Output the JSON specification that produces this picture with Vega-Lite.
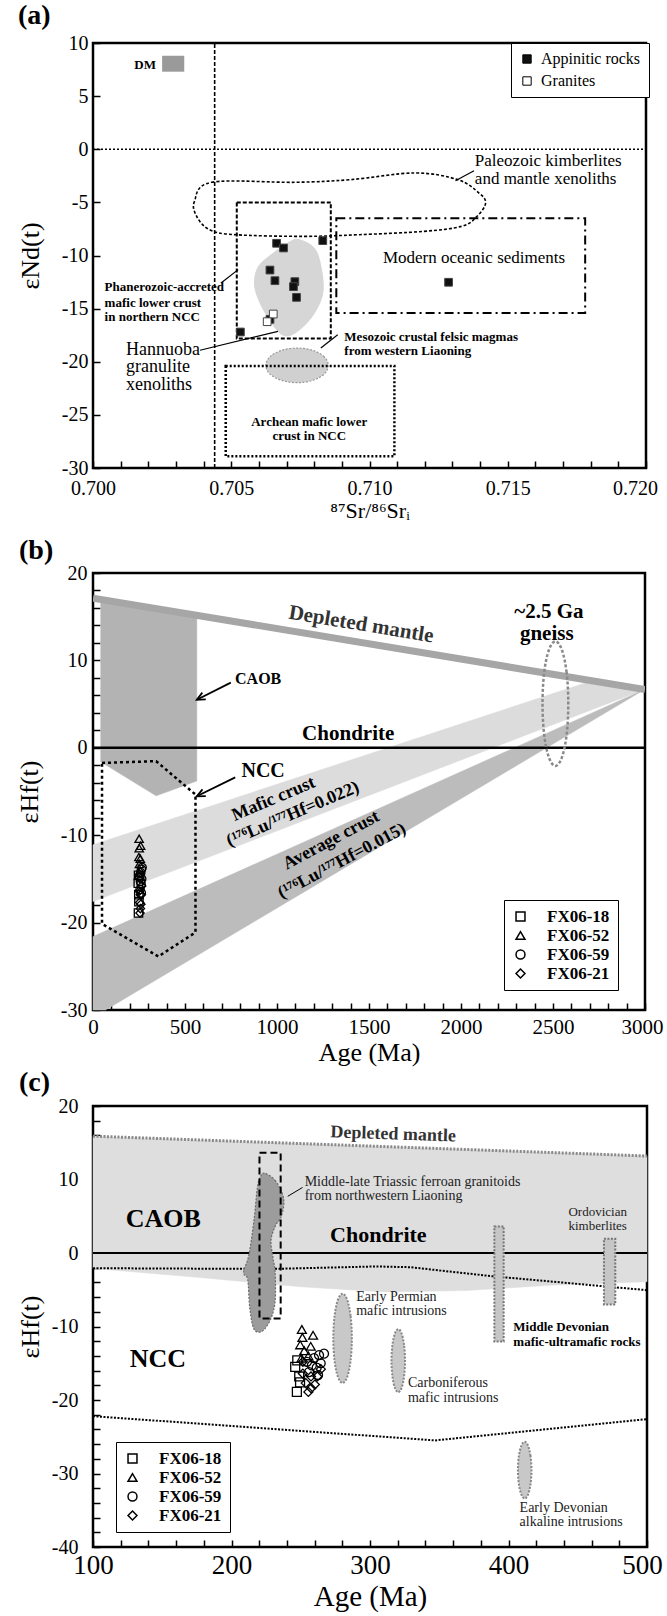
{
 "$schema": "https://vega.github.io/schema/vega-lite/v6.json",
 "autosize": {"type": "none"},
 "padding": {"left": 93, "top": 43, "right": 574, "bottom": 1573},
 "background": "white",
 "bounds": "flush",
 "spacing": 105,
 "resolve": {"scale": {"shape": "independent", "fill": "independent"}, "legend": {"shape": "independent", "fill": "independent"}},
 "config": {
  "view": {"stroke": "black", "strokeWidth": 2.5},
  "axis": {"domain": false, "grid": false, "labelFont": "Liberation Serif", "labelColor": "black", "tickColor": "black", "tickWidth": 1.5, "tickSize": -7, "titleFont": "Liberation Serif", "titleFontWeight": "normal", "titleColor": "black", "labelFlush": false, "labelOverlap": false},
  "legend": {"labelFont": "Liberation Serif", "labelColor": "black", "strokeColor": "black", "fillColor": "white", "orient": "none"},
  "title": {"font": "Liberation Serif", "fontWeight": "bold", "color": "black", "anchor": "start", "frame": "group"}
 },
 "vconcat": [
  {
   "width": 553, "height": 425,
   "title": {"text": "(a)", "fontSize": 28, "dx": -75, "dy": 29, "offset": 10, "baseline": "alphabetic"},
   "encoding": {
    "x": {"field": "x", "type": "quantitative", "scale": {"domain": [0.7, 0.72], "nice": false, "zero": false},
     "axis": {"values": [0.7,0.701,0.702,0.703,0.704,0.705,0.706,0.707,0.708,0.709,0.71,0.711,0.712,0.713,0.714,0.715,0.716,0.717,0.718,0.719,0.72],
      "labelExpr": "indexof(['0.700','0.705','0.710','0.715','0.720'], format(datum.value, '.3f')) >= 0 ? format(datum.value, '.3f') : ''",
      "labelOffset": {"condition": {"test": "datum.value > 0.7195", "value": -11}, "value": 0},
      "labelFontSize": 20, "labelPadding": 17, "title": "⁸⁷Sr/⁸⁶Srᵢ", "titleFontSize": 22, "titleY": 49, "titleBaseline": "alphabetic"}},
    "y": {"field": "y", "type": "quantitative", "scale": {"domain": [-30, 10], "nice": false, "zero": false},
     "axis": {"values": [-30,-25,-20,-15,-10,-5,0,5,10], "labelExpr": "(datum.value < 0 ? '-' : '') + format(abs(datum.value), 'd')",
      "labelFontSize": 20, "labelPadding": 12, "title": "εNd(t)", "titleFontSize": 26, "titleX": -63, "titleBaseline": "middle"}}
   },
   "layer": [
    {"data": {"values": [
      {"i":0,"x":0.70746,"y":-8.51},{"i":1,"x":0.70800,"y":-9.29},{"i":2,"x":0.70824,"y":-11.02},{"i":3,"x":0.70831,"y":-13.53},
      {"i":4,"x":0.70793,"y":-15.72},{"i":5,"x":0.70731,"y":-17.29},{"i":6,"x":0.70684,"y":-17.45},{"i":7,"x":0.70638,"y":-16.04},
      {"i":8,"x":0.70599,"y":-14.16},{"i":9,"x":0.70584,"y":-12.59},{"i":10,"x":0.70599,"y":-11.02},{"i":11,"x":0.70653,"y":-9.76},{"i":12,"x":0.70715,"y":-8.67}]},
     "mark": {"type": "line", "interpolate": "cardinal-closed", "fill": "#d6d6d6", "stroke": "#d6d6d6", "strokeWidth": 1},
     "encoding": {"order": {"field": "i", "type": "quantitative"}}},
    {"data": {"values": [
      {"i":0,"x":0.70851,"y":-20.34},{"i":1,"x":0.70836,"y":-19.53},{"i":2,"x":0.70795,"y":-18.93},{"i":3,"x":0.70738,"y":-18.71},
      {"i":4,"x":0.70682,"y":-18.93},{"i":5,"x":0.70640,"y":-19.53},{"i":6,"x":0.70625,"y":-20.34},{"i":7,"x":0.70640,"y":-21.16},
      {"i":8,"x":0.70682,"y":-21.75},{"i":9,"x":0.70738,"y":-21.97},{"i":10,"x":0.70795,"y":-21.75},{"i":11,"x":0.70836,"y":-21.16}]},
     "mark": {"type": "line", "interpolate": "cardinal-closed", "fill": "#d0d0d0", "stroke": "#9a9a9a", "strokeWidth": 1.2, "strokeDash": [2, 1.5]},
     "encoding": {"order": {"field": "i", "type": "quantitative"}}},
    {"data": {"values": [{"x": 0.7025, "x2": 0.7033, "y": 7.3, "y2": 8.8}]},
     "mark": {"type": "rect", "color": "#9a9a9a"},
     "encoding": {"x2": {"field": "x2"}, "y2": {"field": "y2"}}},
    {"data": {"values": [{"i":0,"x":0.7044,"y":-30},{"i":1,"x":0.7044,"y":10}]},
     "mark": {"type": "line", "stroke": "black", "strokeWidth": 1.6, "strokeDash": [4, 2]},
     "encoding": {"order": {"field": "i", "type": "quantitative"}}},
    {"data": {"values": [{"i":0,"x":0.7,"y":0},{"i":1,"x":0.72,"y":0}]},
     "mark": {"type": "line", "stroke": "black", "strokeWidth": 1.6, "strokeDash": [2, 2]},
     "encoding": {"order": {"field": "i", "type": "quantitative"}}},
    {"data": {"values": [
      {"i":0,"x":0.70367,"y":-4.90},{"i":1,"x":0.70429,"y":-3.11},{"i":2,"x":0.70731,"y":-3.11},{"i":3,"x":0.70932,"y":-2.86},
      {"i":4,"x":0.71164,"y":-2.23},{"i":5,"x":0.71319,"y":-2.86},{"i":6,"x":0.71396,"y":-4.12},{"i":7,"x":0.71420,"y":-5.06},
      {"i":8,"x":0.71389,"y":-6.31},{"i":9,"x":0.71334,"y":-7.25},{"i":10,"x":0.71195,"y":-7.73},{"i":11,"x":0.70963,"y":-8.04},
      {"i":12,"x":0.70762,"y":-8.20},{"i":13,"x":0.70514,"y":-8.04},{"i":14,"x":0.70421,"y":-7.57},{"i":15,"x":0.70375,"y":-6.31}]},
     "mark": {"type": "line", "interpolate": "cardinal-closed", "stroke": "black", "strokeWidth": 1.6, "strokeDash": [3, 2]},
     "encoding": {"order": {"field": "i", "type": "quantitative"}}},
    {"data": {"values": [{"x": 0.7052, "x2": 0.7086, "y": -17.8, "y2": -5.0}]},
     "mark": {"type": "rect", "filled": false, "stroke": "black", "strokeWidth": 2, "strokeDash": [4, 2]},
     "encoding": {"x2": {"field": "x2"}, "y2": {"field": "y2"}}},
    {"data": {"values": [{"x": 0.7088, "x2": 0.7178, "y": -15.4, "y2": -6.5}]},
     "mark": {"type": "rect", "filled": false, "stroke": "black", "strokeWidth": 2, "strokeDash": [9, 4, 2, 4]},
     "encoding": {"x2": {"field": "x2"}, "y2": {"field": "y2"}}},
    {"data": {"values": [{"x": 0.7048, "x2": 0.7109, "y": -28.9, "y2": -20.4}]},
     "mark": {"type": "rect", "filled": false, "stroke": "black", "strokeWidth": 2.5, "strokeDash": [2, 2]},
     "encoding": {"x2": {"field": "x2"}, "y2": {"field": "y2"}}},
    {"data": {"values": [
      {"s":"k","i":0,"x":0.71311,"y":-2.96},{"s":"k","i":1,"x":0.71378,"y":-2.02},
      {"s":"p","i":0,"x":0.70463,"y":-12.59},{"s":"p","i":1,"x":0.70525,"y":-11.33},
      {"s":"h","i":0,"x":0.70387,"y":-18.92},{"s":"h","i":1,"x":0.70669,"y":-17.14},
      {"s":"m","i":0,"x":0.70824,"y":-18.70},{"s":"m","i":1,"x":0.70885,"y":-17.45}]},
     "mark": {"type": "line", "stroke": "black", "strokeWidth": 1.2},
     "encoding": {"detail": {"field": "s"}, "order": {"field": "i", "type": "quantitative"}}},
    {"data": {"values": [
      {"x":0.70664,"y":-8.85,"type":"Appinitic rocks"},{"x":0.70689,"y":-9.29,"type":"Appinitic rocks"},
      {"x":0.70831,"y":-8.60,"type":"Appinitic rocks"},{"x":0.70640,"y":-11.37,"type":"Appinitic rocks"},
      {"x":0.70658,"y":-12.37,"type":"Appinitic rocks"},{"x":0.70730,"y":-12.46,"type":"Appinitic rocks"},
      {"x":0.70725,"y":-12.93,"type":"Appinitic rocks"},{"x":0.70736,"y":-13.94,"type":"Appinitic rocks"},
      {"x":0.71286,"y":-12.52,"type":"Appinitic rocks"},{"x":0.70533,"y":-17.20,"type":"Appinitic rocks"},
      {"x":0.70640,"y":-16.01,"type":"Appinitic rocks"},{"x":0.70652,"y":-15.51,"type":"Granites"},{"x":0.70630,"y":-16.23,"type":"Granites"}]},
     "mark": {"type": "point", "shape": "square", "filled": true, "size": 60, "stroke": "#444", "strokeWidth": 1, "opacity": 1},
     "encoding": {"fill": {"field": "type", "type": "nominal", "scale": {"domain": ["Appinitic rocks", "Granites"], "range": ["#111111", "white"]},
      "legend": {"title": null, "legendX": 418, "legendY": 0, "padding": 8, "rowPadding": 6, "labelFontSize": 16, "labelOffset": 6, "symbolType": "square", "symbolSize": 70, "symbolStrokeColor": "black", "symbolStrokeWidth": 1,
       "encode": {"legend": {"update": {"strokeWidth": {"value": 2}}}}}}}},
    {"data": {"values": [{"x":0.71381,"y":-1.07,"t":"Paleozoic kimberlites"},{"x":0.71381,"y":-2.77,"t":"and mantle xenoliths"}]},
     "mark": {"type": "text", "font": "Liberation Serif", "fontSize": 17, "align": "left", "baseline": "middle"},
     "encoding": {"text": {"field": "t"}}},
    {"data": {"values": [{"x":0.71378,"y":-10.23,"t":"Modern oceanic sediments"}]},
     "mark": {"type": "text", "font": "Liberation Serif", "fontSize": 17, "align": "center", "baseline": "middle"},
     "encoding": {"text": {"field": "t"}}},
    {"data": {"values": [{"x":0.70042,"y":-12.96,"t":"Phanerozoic-accreted"},{"x":0.70042,"y":-14.47,"t":"mafic lower crust"},{"x":0.70042,"y":-15.82,"t":"in northern NCC"},
      {"x":0.70909,"y":-17.70,"t":"Mesozoic crustal felsic magmas"},{"x":0.70909,"y":-19.02,"t":"from western Liaoning"}]},
     "mark": {"type": "text", "font": "Liberation Serif", "fontSize": 13, "fontWeight": "bold", "align": "left", "baseline": "middle"},
     "encoding": {"text": {"field": "t"}}},
    {"data": {"values": [{"x":0.70782,"y":-25.70,"t":"Archean mafic lower"},{"x":0.70782,"y":-27.02,"t":"crust in NCC"}]},
     "mark": {"type": "text", "font": "Liberation Serif", "fontSize": 13, "fontWeight": "bold", "align": "center", "baseline": "middle"},
     "encoding": {"text": {"field": "t"}}},
    {"data": {"values": [{"x":0.70119,"y":-18.86,"t":"Hannuoba"},{"x":0.70119,"y":-20.52,"t":"granulite"},{"x":0.70119,"y":-22.16,"t":"xenoliths"}]},
     "mark": {"type": "text", "font": "Liberation Serif", "fontSize": 18, "align": "left", "baseline": "middle"},
     "encoding": {"text": {"field": "t"}}},
    {"data": {"values": [{"x":0.70228,"y":7.93,"t":"DM"}]},
     "mark": {"type": "text", "font": "Liberation Serif", "fontSize": 13, "fontWeight": "bold", "align": "right", "baseline": "middle"},
     "encoding": {"text": {"field": "t"}}}
   ]
  },
  {
   "bounds": "flush",
   "spacing": 96,
   "resolve": {"scale": {"shape": "independent"}, "legend": {"shape": "independent"}},
   "vconcat": [
    {
     "width": 552, "height": 437,
     "title": {"text": "(b)", "fontSize": 28, "dx": -74, "dy": 42, "offset": 18, "baseline": "alphabetic"},
     "encoding": {
      "x": {"field": "x", "type": "quantitative", "scale": {"domain": [0, 3000], "nice": false, "zero": false},
       "axis": {"values": [0,100,200,300,400,500,600,700,800,900,1000,1100,1200,1300,1400,1500,1600,1700,1800,1900,2000,2100,2200,2300,2400,2500,2600,2700,2800,2900,3000],
        "labelExpr": "datum.value % 500 == 0 ? format(datum.value, 'd') : ''",
        "labelOffset": {"condition": {"test": "datum.value > 2950", "value": -3}, "value": 0},
        "labelFontSize": 21, "labelPadding": 13, "title": "Age (Ma)", "titleFontSize": 26, "titleY": 50, "titleBaseline": "alphabetic"}},
      "y": {"field": "y", "type": "quantitative", "scale": {"domain": [-30, 20], "nice": false, "zero": false},
       "axis": {"values": [-30,-28,-26,-24,-22,-20,-18,-16,-14,-12,-10,-8,-6,-4,-2,0,2,4,6,8,10,12,14,16,18,20],
        "labelExpr": "datum.value % 10 == 0 ? (datum.value < 0 ? '-' : '') + format(abs(datum.value), 'd') : ''",
        "labelFontSize": 20, "labelPadding": 13, "title": "εHf(t)", "titleFontSize": 26, "titleX": -64, "titleBaseline": "middle"}}
     },
     "layer": [
      {"data": {"values": [{"i":0,"x":0,"y":-11.1},{"i":1,"x":2700,"y":7.6},{"i":2,"x":3000,"y":6.7},{"i":3,"x":0,"y":-17.6}]},
       "mark": {"type": "line", "interpolate": "linear-closed", "fill": "#dcdcdc", "stroke": "#dcdcdc", "strokeWidth": 0.5},
       "encoding": {"order": {"field": "i", "type": "quantitative"}}},
      {"data": {"values": [{"i":0,"x":0,"y":-21.6},{"i":1,"x":3000,"y":6.7},{"i":2,"x":68,"y":-30},{"i":3,"x":0,"y":-30}]},
       "mark": {"type": "line", "interpolate": "linear-closed", "fill": "#bcbcbc", "stroke": "#bcbcbc", "strokeWidth": 0.5},
       "encoding": {"order": {"field": "i", "type": "quantitative"}}},
      {"data": {"values": [{"i":0,"x":42,"y":17.0},{"i":1,"x":564,"y":15.1},{"i":2,"x":564,"y":-3.8},{"i":3,"x":343,"y":-5.5},{"i":4,"x":42,"y":-1.6}]},
       "mark": {"type": "line", "interpolate": "linear-closed", "fill": "#b3b3b3", "stroke": "#b3b3b3", "strokeWidth": 0.5},
       "encoding": {"order": {"field": "i", "type": "quantitative"}}},
      {"data": {"values": [{"i":0,"x":0,"y":17.12},{"i":1,"x":3000,"y":6.67}]},
       "mark": {"type": "line", "stroke": "#a6a6a6", "strokeWidth": 7, "clip": true},
       "encoding": {"order": {"field": "i", "type": "quantitative"}}},
      {"data": {"values": [{"i":0,"x":0,"y":0},{"i":1,"x":3000,"y":0}]},
       "mark": {"type": "line", "stroke": "black", "strokeWidth": 2.5},
       "encoding": {"order": {"field": "i", "type": "quantitative"}}},
      {"data": {"values": [{"i":0,"x":49,"y":-1.73},{"i":1,"x":343,"y":-1.53},{"i":2,"x":557,"y":-5.35},{"i":3,"x":557,"y":-21.12},{"i":4,"x":355,"y":-23.88},{"i":5,"x":49,"y":-20.14}]},
       "mark": {"type": "line", "interpolate": "linear-closed", "stroke": "black", "strokeWidth": 2.5, "strokeDash": [3, 3]},
       "encoding": {"order": {"field": "i", "type": "quantitative"}}},
      {"data": {"values": [
        {"i":0,"x":2583,"y":5.05},{"i":1,"x":2574,"y":8.62},{"i":2,"x":2548,"y":11.22},{"i":3,"x":2513,"y":12.18},
        {"i":4,"x":2478,"y":11.22},{"i":5,"x":2452,"y":8.62},{"i":6,"x":2443,"y":5.05},{"i":7,"x":2452,"y":1.48},
        {"i":8,"x":2478,"y":-1.12},{"i":9,"x":2513,"y":-2.08},{"i":10,"x":2548,"y":-1.12},{"i":11,"x":2574,"y":1.48}]},
       "mark": {"type": "line", "interpolate": "cardinal-closed", "stroke": "#8a8a8a", "strokeWidth": 2.5, "strokeDash": [3, 2]},
       "encoding": {"order": {"field": "i", "type": "quantitative"}}},
      {"data": {"values": [
        {"s":"c1","i":0,"x":749,"y":7.46},{"s":"c1","i":1,"x":564,"y":5.49},
        {"s":"c2","i":0,"x":613,"y":5.53},{"s":"c2","i":1,"x":564,"y":5.49},{"s":"c2","i":2,"x":594,"y":6.31},
        {"s":"n1","i":0,"x":773,"y":-3.38},{"s":"n1","i":1,"x":564,"y":-5.55},
        {"s":"n2","i":0,"x":613,"y":-5.52},{"s":"n2","i":1,"x":564,"y":-5.55},{"s":"n2","i":2,"x":595,"y":-4.75}]},
       "mark": {"type": "line", "stroke": "black", "strokeWidth": 1.8},
       "encoding": {"detail": {"field": "s"}, "order": {"field": "i", "type": "quantitative"}}},
      {"data": {"values": [
        {"x":250.8,"y":-10.4,"sample":"FX06-52"},{"x":258.9,"y":-11.2,"sample":"FX06-52"},{"x":251.2,"y":-11.5,"sample":"FX06-52"},{"x":249.6,"y":-12.5,"sample":"FX06-52"},
        {"x":257.2,"y":-12.7,"sample":"FX06-52"},{"x":252.5,"y":-13.3,"sample":"FX06-52"},{"x":255.5,"y":-14.0,"sample":"FX06-52"},{"x":250.5,"y":-14.3,"sample":"FX06-52"},
        {"x":266.8,"y":-13.7,"sample":"FX06-59"},{"x":263.2,"y":-13.9,"sample":"FX06-59"},{"x":259.6,"y":-14.3,"sample":"FX06-59"},{"x":264.4,"y":-15.0,"sample":"FX06-59"},
        {"x":261.5,"y":-15.6,"sample":"FX06-59"},{"x":258.0,"y":-15.3,"sample":"FX06-59"},{"x":254.5,"y":-14.8,"sample":"FX06-59"},{"x":262.5,"y":-16.6,"sample":"FX06-59"},{"x":256.0,"y":-16.2,"sample":"FX06-59"},
        {"x":246.0,"y":-15.5,"sample":"FX06-18"},{"x":248.9,"y":-16.8,"sample":"FX06-18"},{"x":247.2,"y":-18.9,"sample":"FX06-18"},{"x":249.5,"y":-17.6,"sample":"FX06-18"},{"x":247.5,"y":-14.6,"sample":"FX06-18"},
        {"x":251.5,"y":-14.8,"sample":"FX06-21"},{"x":251.5,"y":-16.4,"sample":"FX06-21"},{"x":257.4,"y":-16.8,"sample":"FX06-21"},{"x":253.6,"y":-17.7,"sample":"FX06-21"},
        {"x":257.5,"y":-18.4,"sample":"FX06-21"},{"x":262.0,"y":-16.8,"sample":"FX06-21"},{"x":260.2,"y":-17.9,"sample":"FX06-21"},{"x":255.5,"y":-18.9,"sample":"FX06-21"},{"x":264.5,"y":-15.8,"sample":"FX06-21"}]},
       "mark": {"type": "point", "filled": false, "color": "black", "size": 70, "strokeWidth": 1.3, "opacity": 1},
       "encoding": {"shape": {"field": "sample", "type": "nominal", "scale": {"domain": ["FX06-18", "FX06-52", "FX06-59", "FX06-21"], "range": ["square", "triangle-up", "circle", "diamond"]},
        "legend": {"title": null, "legendX": 411, "legendY": 327, "padding": 8, "rowPadding": 1, "labelFontSize": 17, "labelFontWeight": "bold", "labelOffset": 18, "symbolSize": 80, "symbolStrokeColor": "black", "symbolStrokeWidth": 1.5, "symbolFillColor": "white",
         "labelExpr": "datum.label + '       '",
         "encode": {"legend": {"update": {"strokeWidth": {"value": 2}}}}}}}},
      {"data": {"values": [{"x":1457,"y":14.1,"t":"Depleted mantle"}]},
       "mark": {"type": "text", "font": "Liberation Serif", "fontSize": 21, "fontWeight": "bold", "color": "#333", "align": "center", "baseline": "middle", "angle": 9.4},
       "encoding": {"text": {"field": "t"}}},
      {"data": {"values": [{"x":772,"y":7.86,"t":"CAOB"}]},
       "mark": {"type": "text", "font": "Liberation Serif", "fontSize": 16, "fontWeight": "bold", "align": "left", "baseline": "middle"},
       "encoding": {"text": {"field": "t"}}},
      {"data": {"values": [{"x":807,"y":-2.6,"t":"NCC"}]},
       "mark": {"type": "text", "font": "Liberation Serif", "fontSize": 20, "fontWeight": "bold", "align": "left", "baseline": "middle"},
       "encoding": {"text": {"field": "t"}}},
      {"data": {"values": [{"x":1387,"y":1.55,"t":"Chondrite"},{"x":2478,"y":15.5,"t":"~2.5 Ga"},{"x":2466,"y":12.98,"t":"gneiss"}]},
       "mark": {"type": "text", "font": "Liberation Serif", "fontSize": 21, "fontWeight": "bold", "align": "center", "baseline": "middle"},
       "encoding": {"text": {"field": "t"}}},
      {"data": {"values": [{"x":981,"y":-5.87,"t":"Mafic crust"},{"x":1086,"y":-7.6,"t":"(¹⁷⁶Lu/¹⁷⁷Hf=0.022)"}]},
       "mark": {"type": "text", "font": "Liberation Serif", "fontSize": 18, "fontWeight": "bold", "align": "center", "baseline": "middle", "angle": -23},
       "encoding": {"text": {"field": "t"}}},
      {"data": {"values": [{"x":1295,"y":-10.6,"t":"Average crust"},{"x":1353,"y":-12.96,"t":"(¹⁷⁶Lu/¹⁷⁷Hf=0.015)"}]},
       "mark": {"type": "text", "font": "Liberation Serif", "fontSize": 18, "fontWeight": "bold", "align": "center", "baseline": "middle", "angle": -28},
       "encoding": {"text": {"field": "t"}}}
     ]
    },
    {
     "width": 554, "height": 441,
     "title": {"text": "(c)", "fontSize": 28, "dx": -74, "dy": 40, "offset": 17, "baseline": "alphabetic"},
     "encoding": {
      "x": {"field": "x", "type": "quantitative", "scale": {"domain": [100, 500], "nice": false, "zero": false},
       "axis": {"values": [100,120,140,160,180,200,220,240,260,280,300,320,340,360,380,400,420,440,460,480,500],
        "labelExpr": "datum.value % 100 == 0 ? format(datum.value, 'd') : ''",
        "labelOffset": {"condition": {"test": "datum.value > 495", "value": -5}, "value": 0},
        "labelFontSize": 27, "labelPadding": 12, "title": "Age (Ma)", "titleFontSize": 29, "titleY": 58, "titleBaseline": "alphabetic"}},
      "y": {"field": "y", "type": "quantitative", "scale": {"domain": [-40, 20], "nice": false, "zero": false},
       "axis": {"values": [-40,-38,-36,-34,-32,-30,-28,-26,-24,-22,-20,-18,-16,-14,-12,-10,-8,-6,-4,-2,0,2,4,6,8,10,12,14,16,18,20],
        "labelExpr": "datum.value % 10 == 0 ? (datum.value < 0 ? '-' : '') + format(abs(datum.value), 'd') : ''",
        "labelFontSize": 20, "labelPadding": 22, "title": "εHf(t)", "titleFontSize": 26, "titleX": -63, "titleBaseline": "middle"}}
     },
     "layer": [
      {"data": {"values": [{"i":0,"x":100,"y":15.9},{"i":1,"x":500,"y":13.2},{"i":2,"x":500,"y":-3.9},{"i":3,"x":430,"y":-4.4},{"i":4,"x":370,"y":-5.1},{"i":5,"x":310,"y":-5.3},{"i":6,"x":250,"y":-4.6},{"i":7,"x":175,"y":-3.3},{"i":8,"x":100,"y":-2.1}]},
       "mark": {"type": "line", "interpolate": "linear-closed", "fill": "#dedede", "stroke": "#dedede", "strokeWidth": 0.5},
       "encoding": {"order": {"field": "i", "type": "quantitative"}}},
      {"data": {"values": [{"i":0,"x":100,"y":15.9},{"i":1,"x":500,"y":13.2}]},
       "mark": {"type": "line", "stroke": "#8a8a8a", "strokeWidth": 3, "strokeDash": [2, 1.5]},
       "encoding": {"order": {"field": "i", "type": "quantitative"}}},
      {"data": {"values": [{"i":0,"x":100,"y":0},{"i":1,"x":500,"y":0}]},
       "mark": {"type": "line", "stroke": "black", "strokeWidth": 1.8},
       "encoding": {"order": {"field": "i", "type": "quantitative"}}},
      {"data": {"values": [
        {"s":"u","i":0,"x":100,"y":-2.07},{"s":"u","i":1,"x":229,"y":-2.17},{"s":"u","i":2,"x":304.6,"y":-1.83},{"s":"u","i":3,"x":329,"y":-1.93},{"s":"u","i":4,"x":386.7,"y":-3.13},{"s":"u","i":5,"x":500,"y":-5.06},
        {"s":"l","i":0,"x":100,"y":-22.2},{"s":"l","i":1,"x":347,"y":-25.5},{"s":"l","i":2,"x":500,"y":-22.6}]},
       "mark": {"type": "line", "stroke": "black", "strokeWidth": 2, "strokeDash": [2, 1.5]},
       "encoding": {"detail": {"field": "s"}, "order": {"field": "i", "type": "quantitative"}}},
      {"data": {"values": [
        {"i":0,"x":223.9,"y":10.84},{"i":1,"x":231.5,"y":9.88},{"i":2,"x":237.6,"y":7.47},{"i":3,"x":236.1,"y":5.06},{"i":4,"x":231.5,"y":3.62},
        {"i":5,"x":228.5,"y":1.69},{"i":6,"x":230.0,"y":-0.72},{"i":7,"x":231.5,"y":-2.65},{"i":8,"x":231.5,"y":-6.5},{"i":9,"x":228.5,"y":-8.91},
        {"i":10,"x":222.4,"y":-10.6},{"i":11,"x":216.3,"y":-10.36},{"i":12,"x":213.2,"y":-7.47},{"i":13,"x":211.7,"y":-3.6},{"i":14,"x":208.7,"y":-2.65},
        {"i":15,"x":212.6,"y":-0.24},{"i":16,"x":216.3,"y":4.58},{"i":17,"x":218.7,"y":8.92},{"i":18,"x":220.8,"y":10.36}]},
       "mark": {"type": "line", "interpolate": "cardinal-closed", "fill": "#9c9c9c", "stroke": "#6a6a6a", "strokeWidth": 1.2, "strokeDash": [2, 1.5]},
       "encoding": {"order": {"field": "i", "type": "quantitative"}}},
      {"data": {"values": [{"x": 220.2, "x2": 235.5, "y": -8.91, "y2": 13.64}]},
       "mark": {"type": "rect", "filled": false, "stroke": "black", "strokeWidth": 2, "strokeDash": [7, 4]},
       "encoding": {"x2": {"field": "x2"}, "y2": {"field": "y2"}}},
      {"data": {"values": [{"x": 389.8, "x2": 396.5, "y": -12.05, "y2": 3.62}, {"x": 468.9, "x2": 477.1, "y": -6.99, "y2": 1.93}]},
       "mark": {"type": "rect", "fill": "#c6c6c6", "stroke": "#777", "strokeWidth": 2, "strokeDash": [2, 1.5]},
       "encoding": {"x2": {"field": "x2"}, "y2": {"field": "y2"}}},
      {"data": {"values": [
        {"e":"p","i":0,"x":286.9,"y":-11.61},{"e":"p","i":1,"x":286.0,"y":-8.57},{"e":"p","i":2,"x":283.55,"y":-6.35},{"e":"p","i":3,"x":280.2,"y":-5.54},
        {"e":"p","i":4,"x":276.85,"y":-6.35},{"e":"p","i":5,"x":274.4,"y":-8.57},{"e":"p","i":6,"x":273.5,"y":-11.61},{"e":"p","i":7,"x":274.4,"y":-14.65},
        {"e":"p","i":8,"x":276.85,"y":-16.87},{"e":"p","i":9,"x":280.2,"y":-17.68},{"e":"p","i":10,"x":283.55,"y":-16.87},{"e":"p","i":11,"x":286.0,"y":-14.65},
        {"e":"c","i":0,"x":325.3,"y":-14.65},{"e":"c","i":1,"x":324.6,"y":-12.5},{"e":"c","i":2,"x":322.8,"y":-10.93},{"e":"c","i":3,"x":320.4,"y":-10.36},
        {"e":"c","i":4,"x":318.0,"y":-10.93},{"e":"c","i":5,"x":316.2,"y":-12.5},{"e":"c","i":6,"x":315.5,"y":-14.65},{"e":"c","i":7,"x":316.2,"y":-16.8},
        {"e":"c","i":8,"x":318.0,"y":-18.37},{"e":"c","i":9,"x":320.4,"y":-18.94},{"e":"c","i":10,"x":322.8,"y":-18.37},{"e":"c","i":11,"x":324.6,"y":-16.8},
        {"e":"d","i":0,"x":416.6,"y":-29.54},{"e":"d","i":1,"x":415.9,"y":-27.61},{"e":"d","i":2,"x":414.1,"y":-26.2},{"e":"d","i":3,"x":411.7,"y":-25.68},
        {"e":"d","i":4,"x":409.3,"y":-26.2},{"e":"d","i":5,"x":407.5,"y":-27.61},{"e":"d","i":6,"x":406.8,"y":-29.54},{"e":"d","i":7,"x":407.5,"y":-31.47},
        {"e":"d","i":8,"x":409.3,"y":-32.88},{"e":"d","i":9,"x":411.7,"y":-33.4},{"e":"d","i":10,"x":414.1,"y":-32.88},{"e":"d","i":11,"x":415.9,"y":-31.47}]},
       "mark": {"type": "line", "interpolate": "cardinal-closed", "fill": "#c8c8c8", "stroke": "#888", "strokeWidth": 2, "strokeDash": [2, 1.5]},
       "encoding": {"detail": {"field": "e"}, "order": {"field": "i", "type": "quantitative"}}},
      {"data": {"values": [{"i":0,"x":240.6,"y":7.71},{"i":1,"x":251.3,"y":8.92}]},
       "mark": {"type": "line", "stroke": "black", "strokeWidth": 1},
       "encoding": {"order": {"field": "i", "type": "quantitative"}}},
      {"data": {"values": [
        {"x":250.8,"y":-10.4,"sample":"FX06-52"},{"x":258.9,"y":-11.2,"sample":"FX06-52"},{"x":251.2,"y":-11.5,"sample":"FX06-52"},{"x":249.6,"y":-12.5,"sample":"FX06-52"},
        {"x":257.2,"y":-12.7,"sample":"FX06-52"},{"x":252.5,"y":-13.3,"sample":"FX06-52"},{"x":255.5,"y":-14.0,"sample":"FX06-52"},{"x":250.5,"y":-14.3,"sample":"FX06-52"},
        {"x":266.8,"y":-13.7,"sample":"FX06-59"},{"x":263.2,"y":-13.9,"sample":"FX06-59"},{"x":259.6,"y":-14.3,"sample":"FX06-59"},{"x":264.4,"y":-15.0,"sample":"FX06-59"},
        {"x":261.5,"y":-15.6,"sample":"FX06-59"},{"x":258.0,"y":-15.3,"sample":"FX06-59"},{"x":254.5,"y":-14.8,"sample":"FX06-59"},{"x":262.5,"y":-16.6,"sample":"FX06-59"},{"x":256.0,"y":-16.2,"sample":"FX06-59"},
        {"x":246.0,"y":-15.5,"sample":"FX06-18"},{"x":248.9,"y":-16.8,"sample":"FX06-18"},{"x":247.2,"y":-18.9,"sample":"FX06-18"},{"x":249.5,"y":-17.6,"sample":"FX06-18"},{"x":247.5,"y":-14.6,"sample":"FX06-18"},
        {"x":251.5,"y":-14.8,"sample":"FX06-21"},{"x":251.5,"y":-16.4,"sample":"FX06-21"},{"x":257.4,"y":-16.8,"sample":"FX06-21"},{"x":253.6,"y":-17.7,"sample":"FX06-21"},
        {"x":257.5,"y":-18.4,"sample":"FX06-21"},{"x":262.0,"y":-16.8,"sample":"FX06-21"},{"x":260.2,"y":-17.9,"sample":"FX06-21"},{"x":255.5,"y":-18.9,"sample":"FX06-21"},{"x":264.5,"y":-15.8,"sample":"FX06-21"}]},
       "mark": {"type": "point", "filled": false, "color": "black", "size": 80, "strokeWidth": 1.3, "opacity": 1},
       "encoding": {"shape": {"field": "sample", "type": "nominal", "scale": {"domain": ["FX06-18", "FX06-52", "FX06-59", "FX06-21"], "range": ["square", "triangle-up", "circle", "diamond"]},
        "legend": {"title": null, "legendX": 23, "legendY": 336, "padding": 8, "rowPadding": 1, "labelFontSize": 17, "labelFontWeight": "bold", "labelOffset": 18, "symbolSize": 80, "symbolStrokeColor": "black", "symbolStrokeWidth": 1.5, "symbolFillColor": "white",
         "labelExpr": "datum.label + '   '",
         "encode": {"legend": {"update": {"strokeWidth": {"value": 2}}}}}}}},
      {"data": {"values": [{"x":316.7,"y":16.14,"t":"Depleted mantle"}]},
       "mark": {"type": "text", "font": "Liberation Serif", "fontSize": 18, "fontWeight": "bold", "color": "#333", "align": "center", "baseline": "middle", "angle": 2},
       "encoding": {"text": {"field": "t"}}},
      {"data": {"values": [{"x":306,"y":2.41,"t":"Chondrite"}]},
       "mark": {"type": "text", "font": "Liberation Serif", "fontSize": 22, "fontWeight": "bold", "align": "center", "baseline": "middle"},
       "encoding": {"text": {"field": "t"}}},
      {"data": {"values": [{"x":150.8,"y":4.58,"t":"CAOB"},{"x":146.9,"y":-14.36,"t":"NCC"}]},
       "mark": {"type": "text", "font": "Liberation Serif", "fontSize": 26, "fontWeight": "bold", "align": "center", "baseline": "middle"},
       "encoding": {"text": {"field": "t"}}},
      {"data": {"values": [
        {"x":252.8,"y":9.64,"t":"Middle-late Triassic  ferroan granitoids"},{"x":252.8,"y":7.71,"t":"from northwestern Liaoning"},
        {"x":290,"y":-5.93,"t":"Early Permian"},{"x":290,"y":-7.95,"t":"mafic intrusions"},
        {"x":327.4,"y":-17.68,"t":"Carboniferous"},{"x":327.4,"y":-19.76,"t":"mafic intrusions"},
        {"x":408,"y":-34.7,"t":"Early Devonian"},{"x":408,"y":-36.6,"t":"alkaline  intrusions"}]},
       "mark": {"type": "text", "font": "Liberation Serif", "fontSize": 14, "color": "#222", "align": "left", "baseline": "middle"},
       "encoding": {"text": {"field": "t"}}},
      {"data": {"values": [{"x":464.4,"y":5.54,"t":"Ordovician"},{"x":464.4,"y":3.71,"t":"kimberlites"}]},
       "mark": {"type": "text", "font": "Liberation Serif", "fontSize": 13, "color": "#222", "align": "center", "baseline": "middle"},
       "encoding": {"text": {"field": "t"}}},
      {"data": {"values": [{"x":403.5,"y":-10.12,"t":"Middle Devonian"},{"x":403.5,"y":-12.14,"t":"mafic-ultramafic rocks"}]},
       "mark": {"type": "text", "font": "Liberation Serif", "fontSize": 13, "fontWeight": "bold", "align": "left", "baseline": "middle"},
       "encoding": {"text": {"field": "t"}}}
     ]
    }
   ]
  }
 ]
}
